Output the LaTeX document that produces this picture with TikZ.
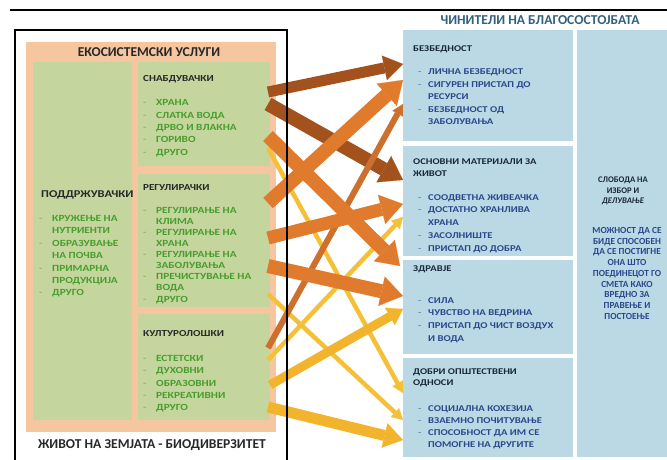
\documentclass[tikz,border=0pt]{standalone}
\usepackage{fontspec}
\setmainfont{Carlito}
\newfontfamily\widefont[FakeStretch=1.2]{Carlito}
\usetikzlibrary{arrows.meta}
\definecolor{peach}{RGB}{246,198,160}
\definecolor{leaf}{RGB}{196,214,158}
\definecolor{sky}{RGB}{187,217,228}
\definecolor{gtext}{RGB}{72,158,45}
\definecolor{gdash}{RGB}{150,175,105}
\definecolor{btext}{RGB}{42,72,140}
\definecolor{bdash}{RGB}{110,140,175}
\definecolor{dhead}{RGB}{40,40,40}
\definecolor{bhead}{RGB}{25,40,60}
\definecolor{ttl}{RGB}{50,95,125}
\definecolor{brownA}{RGB}{163,82,30}
\definecolor{orangeA}{RGB}{224,122,44}
\definecolor{orangeB}{RGB}{205,112,45}
\definecolor{yellowA}{RGB}{243,192,56}
\definecolor{yellowB}{RGB}{242,180,44}
\newcommand{\gi}[1]{\makebox[13pt][l]{\textcolor{gdash}{-}}#1}
\newcommand{\gc}[1]{\hspace*{13pt}#1}
\newcommand{\bi}[1]{\makebox[10pt][l]{\textcolor{bdash}{-}}#1}
\newcommand{\bc}[1]{\hspace*{10pt}#1}
\tikzset{
  txt/.style={inner sep=0pt, anchor=north west, align=left},
  ghead/.style={txt, text=dhead, font=\widefont\bfseries\fontsize{9.2}{11.6}\selectfont},
  gitem/.style={txt, text=gtext, font=\widefont\bfseries\fontsize{9.4}{#1}\selectfont},
  bhd/.style={txt, text=bhead, font=\widefont\bfseries\fontsize{8.8}{#1}\selectfont},
  bitem/.style={txt, text=btext, font=\widefont\bfseries\fontsize{8.9}{#1}\selectfont},
  bigarrow/.style={line width=14pt, -{Triangle[width=30pt,length=22pt,line width=0.1pt]}},
  medarrow/.style={line width=11pt, -{Triangle[width=25pt,length=19pt,line width=0.1pt]}},
  midarrow/.style={line width=9pt, -{Triangle[width=20pt,length=15pt,line width=0.1pt]}},
  thinarrow/.style={line width=4.5pt, -{Triangle[width=12pt,length=11pt,line width=0.1pt]}}
}
\begin{document}
\begin{tikzpicture}[x=1pt,y=-1pt]
\useasboundingbox (0,0) rectangle (667,460);
\clip (0,0) rectangle (667,460);
% top rule
\draw[line width=1.2pt] (10,10) -- (667,10);
% left panel
\fill[peach] (26,42) rectangle (276,432);
\node[font=\bfseries\fontsize{13.5}{15}\selectfont, text=dhead] (ekot) at (149,52) {ЕКОСИСТЕМСКИ УСЛУГИ};
\fill[leaf] (33,62) rectangle (132,420);
\fill[leaf] (138,62) rectangle (270,166);
\fill[leaf] (138,174) rectangle (270,307);
\fill[leaf] (138,314) rectangle (270,420);
\node[ghead] (snh) at (143,75) {СНАБДУВАЧКИ};
\node[gitem=12.3] (sni) at (143,99.7) {\gi{ХРАНА}\\\gi{СЛАТКА ВОДА}\\\gi{ДРВО И ВЛАКНА}\\\gi{ГОРИВО}\\\gi{ДРУГО}};
\node[ghead] (reh) at (143,184) {РЕГУЛИРАЧКИ};
\node[gitem=11.1] (rei) at (143,207) {\gi{РЕГУЛИРАЊЕ НА}\\\gc{КЛИМА}\\\gi{РЕГУЛИРАЊЕ НА}\\\gc{ХРАНА}\\\gi{РЕГУЛИРАЊЕ НА}\\\gc{ЗАБОЛУВАЊА}\\\gi{ПРЕЧИСТУВАЊЕ НА}\\\gc{ВОДА}\\\gi{ДРУГО}};
\node[ghead] (kuh) at (143,330.3) {КУЛТУРОЛОШКИ};
\node[gitem=12.25] (kui) at (143,355.3) {\gi{ЕСТЕТСКИ}\\\gi{ДУХОВНИ}\\\gi{ОБРАЗОВНИ}\\\gi{РЕКРЕАТИВНИ}\\\gi{ДРУГО}};
\node[ghead, font=\widefont\bfseries\fontsize{10.4}{12}\selectfont] (poh) at (41,190.6) {ПОДДРЖУВАЧКИ};
\node[gitem=12.4] (poi) at (39,215.3) {\gi{КРУЖЕЊЕ НА}\\\gc{НУТРИЕНТИ}\\\gi{ОБРАЗУВАЊЕ}\\\gc{НА ПОЧВА}\\\gi{ПРИМАРНА}\\\gc{ПРОДУКЦИЈА}\\\gi{ДРУГО}};
\node[font=\bfseries\fontsize{13.6}{15}\selectfont, text=dhead] (zivot) at (152,445) {ЖИВОТ НА ЗЕМЈАТА - БИОДИВЕРЗИТЕТ};
% right panel
\node[font=\bfseries\fontsize{13.6}{15}\selectfont, text=ttl] (cin) at (540,20) {ЧИНИТЕЛИ НА БЛАГОСОСТОЈБАТА};
\fill[sky] (403,30) rectangle (573,141);
\fill[sky] (403,146) rectangle (573,256);
\fill[sky] (403,260) rectangle (573,354);
\fill[sky] (403,358) rectangle (573,457);
\fill[sky] (577,30) rectangle (680,457);
\node[bhd=11.6] (b1h) at (413,45.3) {БЕЗБЕДНОСТ};
\node[bitem=12.5] (b1i) at (418,68.7) {\bi{ЛИЧНА БЕЗБЕДНОСТ}\\\bi{СИГУРЕН ПРИСТАП ДО}\\\bc{РЕСУРСИ}\\\bi{БЕЗБЕДНОСТ ОД}\\\bc{ЗАБОЛУВАЊА}};
\node[bhd=11.8] (b2h) at (413,158.7) {ОСНОВНИ МАТЕРИЈАЛИ ЗА\\ЖИВОТ};
\node[bitem=12.8] (b2i) at (418,194) {\bi{СООДВЕТНА ЖИВЕАЧКА}\\\bi{ДОСТАТНО ХРАНЛИВА}\\\bc{ХРАНА}\\\bi{ЗАСОЛНИШТЕ}\\\bi{ПРИСТАП ДО ДОБРА}};
\node[bhd=11.6] (b3h) at (413,265.3) {ЗДРАВЈЕ};
\node[bitem=12.9] (b3i) at (418,297) {\bi{СИЛА}\\\bi{ЧУВСТВО НА ВЕДРИНА}\\\bi{ПРИСТАП ДО ЧИСТ ВОЗДУХ}\\\bc{И ВОДА}};
\node[bhd=11.2] (b4h) at (413,368.7) {ДОБРИ ОПШТЕСТВЕНИ\\ОДНОСИ};
\node[bitem=12.1] (b4i) at (418,405.3) {\bi{СОЦИЈАЛНА КОХЕЗИЈА}\\\bi{ВЗАЕМНО ПОЧИТУВАЊЕ}\\\bi{СПОСОБНОСТ ДА ИМ СЕ}\\\bc{ПОМОГНЕ НА ДРУГИТЕ}};
\node[inner sep=0pt, anchor=north, align=center, text=bhead, font=\bfseries\fontsize{8.6}{10.8}\selectfont] (slh) at (623,176.4) {СЛОБОДА НА\\ИЗБОР И\\\itshape ДЕЛУВАЊЕ};
\node[inner sep=0pt, anchor=north, align=center, text=btext, font=\bfseries\fontsize{9.3}{10.75}\selectfont] (sli) at (627,227) {МОЖНОСТ ДА СЕ\\БИДЕ СПОСОБЕН\\ДА СЕ ПОСТИГНЕ\\ОНА ШТО\\ПОЕДИНЕЦОТ ГО\\СМЕТА КАКО\\ВРЕДНО ЗА\\ПРАВЕЊЕ И\\ПОСТОЕЊЕ};
% arrow end points
\coordinate (s1) at (268,92);  \coordinate (e1) at (403,64);
\coordinate (s2) at (268,104); \coordinate (e2) at (403,180);
\coordinate (s3) at (268,203); \coordinate (e3) at (403,80);
\coordinate (s4) at (268,348); \coordinate (e4) at (403,104);
\coordinate (s5) at (268,136); \coordinate (e5) at (400,266);
\coordinate (s6) at (268,238); \coordinate (e6) at (403,204);
\coordinate (s7) at (268,266); \coordinate (e7) at (403,296);
\coordinate (t1) at (268,148); \coordinate (f1) at (403,393);
\coordinate (t2) at (268,294); \coordinate (f2) at (403,420);
\coordinate (t3) at (268,360); \coordinate (f3) at (403,217);
\coordinate (t4) at (270,385); \coordinate (f4) at (403,309);
\coordinate (t5) at (268,407); \coordinate (f5) at (403,440);
% yellow
\draw[thinarrow, yellowA] (t1) -- (f1);
\draw[thinarrow, yellowA] (t2) -- (f2);
\draw[thinarrow, yellowA] (t3) -- (f3);
\draw[midarrow, yellowB] (t4) -- (f4);
\draw[medarrow, yellowB] (t5) -- (f5);
% brown
\draw[medarrow, brownA] (s1) -- (e1);
\draw[bigarrow, brownA] (s2) -- (e2);
% orange
\draw[thinarrow, line width=6pt, orangeB] (s4) -- (e4);
\draw[bigarrow, orangeA] (s5) -- (e5);
\draw[bigarrow, orangeA] (s3) -- (e3);
\draw[bigarrow, line width=13pt, orangeA] (s6) -- (e6);
\draw[bigarrow, orangeA] (s7) -- (e7);
% frame
\draw[line width=2pt] (15,30) rectangle (287,475);
\end{tikzpicture}
\end{document}
